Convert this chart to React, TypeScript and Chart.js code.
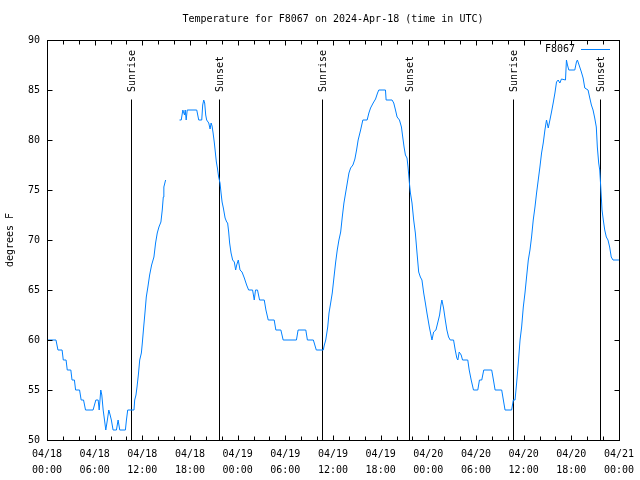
import React, { useEffect, useRef } from 'react';
import { Chart, registerables } from 'chart.js';

Chart.register(...registerables);

const titleText = 'Temperature for F8067 on 2024-Apr-18 (time in UTC)';
const seriesName = 'F8067';
const yAxisTitle = 'degrees F';
const lineColor = '#0080ff';
const fontFamily = '"DejaVu Sans Mono", "Liberation Mono", monospace';

// hours since 04/18 00:00 UTC
const hours: number[] = [
  0, 1.13, 1.38, 1.9, 2.05, 2.4, 2.55, 3.0, 3.15, 3.45, 3.6, 4.1, 4.3, 4.6, 4.85, 5.8,
  6.15, 6.44, 6.57, 6.77, 6.9, 7.07, 7.24, 7.4, 7.6, 7.78, 7.95, 8.1, 8.32, 8.74, 8.95,
  9.16, 9.87, 10.0, 10.16, 10.95, 11.04, 11.2, 11.33, 11.5, 11.67, 11.88, 12.0, 12.17,
  12.33, 12.5, 12.7, 12.92, 13.17, 13.46, 13.67, 13.88, 14.09, 14.34, 14.51, 14.64,
  14.71, 14.93,
  15.8,
  16.68, 16.9, 17.1, 17.31, 17.4, 17.52, 17.65, 18.85, 19.1, 19.48, 19.6, 19.73, 19.85,
  19.98, 20.1, 20.36, 20.53, 20.66, 20.78, 20.91, 21.07, 21.2, 21.32, 21.45, 21.61,
  21.78, 21.91, 22.04, 22.2, 22.42, 22.62, 22.74, 22.87, 22.99, 23.17, 23.37, 23.58,
  23.75, 23.88, 24.08, 24.3, 24.55, 24.84, 25.13, 25.38, 25.88, 26.09, 26.25, 26.5,
  26.76, 27.35, 27.56, 27.85, 28.6, 28.81, 29.44, 29.73, 31.4, 31.61, 32.58, 32.78,
  33.53, 33.9, 34.78, 34.91, 35.09, 35.34, 35.5, 35.71, 35.91, 36.13, 36.34, 36.54,
  36.75, 36.97, 37.17, 37.38, 37.59, 37.8, 38.01, 38.22, 38.51, 38.76, 38.97, 39.17,
  39.48, 39.76, 40.3, 40.52, 40.73, 41.06, 41.36, 41.61, 41.77, 42.61, 42.69, 43.44,
  43.65, 43.87, 44.07, 44.37, 44.62, 44.78, 44.95, 45.12, 45.32, 45.45, 45.62, 45.75,
  45.95, 46.16, 46.37, 46.58, 46.79, 47.0, 47.2, 47.42, 47.63, 47.83, 48.13, 48.46,
  48.67, 48.96, 49.21, 49.42, 49.59, 49.71, 49.92, 50.14, 50.34, 50.55, 50.76, 51.18,
  51.39, 51.59, 51.72, 51.89, 52.14, 52.31, 52.97, 53.15, 53.4, 53.69, 54.23, 54.44,
  54.73, 54.98, 55.98, 56.2, 56.41, 57.24, 57.45, 57.66, 58.49, 58.7, 58.92, 59.12,
  59.33, 59.55, 59.75, 59.96, 60.17, 60.37, 60.59, 60.8, 61.0, 61.21, 61.43, 61.63,
  61.84, 62.05, 62.26, 62.47, 62.68, 62.88, 63.1, 63.31, 63.51, 63.72, 63.94, 64.14,
  64.35, 64.56, 64.76, 65.27, 65.39, 65.52, 65.69, 66.44, 66.65, 66.77, 66.98, 67.27,
  67.49, 67.7, 68.11, 68.33, 68.53, 68.74, 68.95, 69.15, 69.28, 69.45, 69.58, 69.71,
  69.87, 70.03, 70.21, 70.41, 70.62, 70.83, 71.03, 71.25, 72.0,
];

const temps: (number | null)[] = [
  60, 60, 59, 59, 58, 58, 57, 57, 56, 56, 55, 55, 54, 54, 53, 53,
  54, 54, 53, 55, 54.5, 53, 52, 51, 52, 53, 52.5, 52, 51, 51, 52,
  51, 51, 52, 53, 53, 54, 54.5, 55.3, 56.5, 58, 58.7, 59.7, 61.3,
  62.7, 64.3, 65.3, 66.5, 67.5, 68.3, 69.7, 70.7, 71.3, 71.8, 73, 74.3,
  75.3, 76,
  null,
  82, 82, 83, 82.5, 83, 82, 83, 83, 82, 82, 83.5, 84, 83.7,
  82.5, 82, 81.7, 81.1, 81.7, 81.4, 80.7, 79.7, 78.7, 77.8, 77.2, 76.3,
  75.7, 74.7, 73.8, 73.2, 72.2, 71.8, 71.7, 70.8, 69.7, 68.7, 68, 67.8,
  67, 67.5, 68, 67, 66.8, 66.2, 65.5, 65, 65, 64, 65, 65,
  64, 64, 63, 62, 62, 61, 61, 60, 60, 61, 61, 60,
  60, 59, 59, 59.5, 60, 61.3, 62.7, 63.7, 64.7, 66.3, 67.8, 69,
  70, 70.8, 72.3, 73.7, 74.7, 75.7, 76.7, 77.2, 77.5, 78.1, 79, 80,
  81, 82, 82, 82.7, 83.2, 83.7, 84.1, 84.7, 85, 85, 84, 84,
  83.7, 83, 82.3, 82, 81.3, 80.3, 79.3, 78.5, 78.2, 77.3, 75.7, 74.7,
  73.7, 72, 70.7, 68.7, 66.8, 66.3, 66, 64.7, 63.7, 62.7, 61.3, 60,
  60.8, 61, 61.8, 62.5, 63.5, 64, 63.2, 62, 61, 60.3, 60, 60,
  59, 58.2, 58, 58.8, 58.5, 58, 58, 57, 56, 55, 55, 56,
  56, 57, 57, 56, 55, 55, 54, 53, 53, 54, 54, 55.7,
  57.7, 60, 61.3, 63.3, 64.7, 66.3, 68, 69, 70.3, 72, 73.3, 74.7,
  76, 77.3, 78.7, 79.7, 81, 82, 81.2, 82, 82.8, 83.7, 84.7, 85.8,
  86, 85.7, 86.1, 86, 88, 87.5, 87, 87, 87.8, 88, 87.5, 86.8,
  86.2, 85.2, 85, 84.2, 83.5, 83, 82.2, 81.3, 79.3, 77.7, 77, 75.3,
  73, 72, 71, 70.3, 70, 69.3, 68.3, 68, 68,
];

const xTickHours = [0, 6, 12, 18, 24, 30, 36, 42, 48, 54, 60, 66, 72];
const xTickDates = ['04/18', '04/18', '04/18', '04/18', '04/19', '04/19', '04/19', '04/19', '04/20', '04/20', '04/20', '04/20', '04/21'];
const xTickTimes = ['00:00', '06:00', '12:00', '18:00', '00:00', '06:00', '12:00', '18:00', '00:00', '06:00', '12:00', '18:00', '00:00'];

const sunEventHours = [10.58, 21.62, 34.62, 45.58, 58.6, 69.66];
const sunEventLabels = ['Sunrise', 'Sunset', 'Sunrise', 'Sunset', 'Sunrise', 'Sunset'];

const font10 = `10px ${fontFamily}`;

const overlayPlugin = {
  id: 'gnuOverlay',
  beforeDatasetsDraw(chart: any) {
    const { ctx, chartArea, scales } = chart;
    ctx.save();
    ctx.strokeStyle = '#000';
    ctx.lineWidth = 1;
    ctx.fillStyle = '#000';
    ctx.font = font10;
    sunEventHours.forEach((h, i) => {
      const x = Math.round(scales.x.getPixelForValue(h)) + 0.5;
      ctx.beginPath();
      ctx.moveTo(x, chartArea.bottom);
      ctx.lineTo(x, 99.5);
      ctx.stroke();
      ctx.save();
      ctx.translate(x + 0.5, 92);
      ctx.rotate(-Math.PI / 2);
      ctx.textAlign = 'left';
      ctx.textBaseline = 'middle';
      ctx.fillText(sunEventLabels[i], 0, 0);
      ctx.restore();
    });
    ctx.restore();
  },
  afterDraw(chart: any) {
    const { ctx, chartArea, scales } = chart;
    const L = Math.round(chartArea.left) + 0.5;
    const R = Math.round(chartArea.right) + 0.5;
    const T = Math.round(chartArea.top) + 0.5;
    const B = Math.round(chartArea.bottom) + 0.5;
    ctx.save();
    ctx.strokeStyle = '#000';
    ctx.lineWidth = 1;
    ctx.strokeRect(L, T, R - L, B - T);
    ctx.beginPath();
    scales.x.ticks.forEach((t: any) => {
      const x = Math.round(scales.x.getPixelForValue(t.value)) + 0.5;
      const len = t.value % 6 === 0 ? 5 : 4;
      ctx.moveTo(x, B);
      ctx.lineTo(x, B - len);
      ctx.moveTo(x, T);
      ctx.lineTo(x, T + len);
    });
    scales.y.ticks.forEach((t: any) => {
      const y = Math.round(scales.y.getPixelForValue(t.value)) + 0.5;
      ctx.moveTo(L, y);
      ctx.lineTo(L + 5, y);
      ctx.moveTo(R, y);
      ctx.lineTo(R - 5, y);
    });
    ctx.stroke();

    ctx.fillStyle = '#000';
    ctx.font = font10;
    ctx.textBaseline = 'middle';
    ctx.textAlign = 'center';
    ctx.fillText(titleText, (chartArea.left + chartArea.right) / 2, 19);

    ctx.textAlign = 'right';
    ctx.fillText(seriesName, 575, 49);
    ctx.strokeStyle = lineColor;
    ctx.beginPath();
    ctx.moveTo(581, 49.5);
    ctx.lineTo(610, 49.5);
    ctx.stroke();

    ctx.save();
    ctx.translate(10.5, (chartArea.top + chartArea.bottom) / 2);
    ctx.rotate(-Math.PI / 2);
    ctx.textAlign = 'center';
    ctx.textBaseline = 'middle';
    ctx.fillText(yAxisTitle, 0, 0);
    ctx.restore();
    ctx.restore();
  },
};

export default function App() {
  const canvasRef = useRef<HTMLCanvasElement | null>(null);

  useEffect(() => {
    const canvas = canvasRef.current;
    if (!canvas) return;
    const points = hours.map((h, i) => ({ x: h, y: temps[i] }));
    const chart = new Chart(canvas, {
      type: 'line',
      data: {
        datasets: [
          {
            label: seriesName,
            data: points as any,
            borderColor: lineColor,
            borderWidth: 1,
            pointRadius: 0,
            fill: false,
            spanGaps: false,
            tension: 0,
          },
        ],
      },
      options: {
        animation: false,
        responsive: false,
        devicePixelRatio: 1,
        layout: { padding: { top: 40, right: 19, left: 0, bottom: 0 } },
        plugins: {
          legend: { display: false },
          title: { display: false },
          tooltip: { enabled: false },
        },
        scales: {
          x: {
            type: 'linear',
            min: 0,
            max: 72,
            afterFit: (s: any) => {
              s.height = 40;
            },
            grid: { display: false, drawTicks: false },
            border: { display: false },
            ticks: {
              stepSize: 2,
              autoSkip: false,
              maxRotation: 0,
              minRotation: 0,
              padding: 6,
              color: '#000',
              font: { family: fontFamily, size: 10, lineHeight: 1.6 },
              callback: (value: any) => {
                const i = xTickHours.indexOf(Number(value));
                return i >= 0 ? [xTickDates[i], xTickTimes[i]] : '';
              },
            },
          },
          y: {
            type: 'linear',
            min: 50,
            max: 90,
            afterFit: (s: any) => {
              s.width = 47;
            },
            grid: { display: false, drawTicks: false },
            border: { display: false },
            ticks: {
              stepSize: 5,
              padding: 7,
              color: '#000',
              font: { family: fontFamily, size: 10 },
            },
          },
        },
      },
      plugins: [overlayPlugin],
    });
    return () => chart.destroy();
  }, []);

  return (
    <div style={{ position: 'fixed', left: 0, top: 0, width: 640, height: 480, background: '#fff' }}>
      <canvas ref={canvasRef} width={640} height={480} style={{ width: 640, height: 480 }} />
    </div>
  );
}
